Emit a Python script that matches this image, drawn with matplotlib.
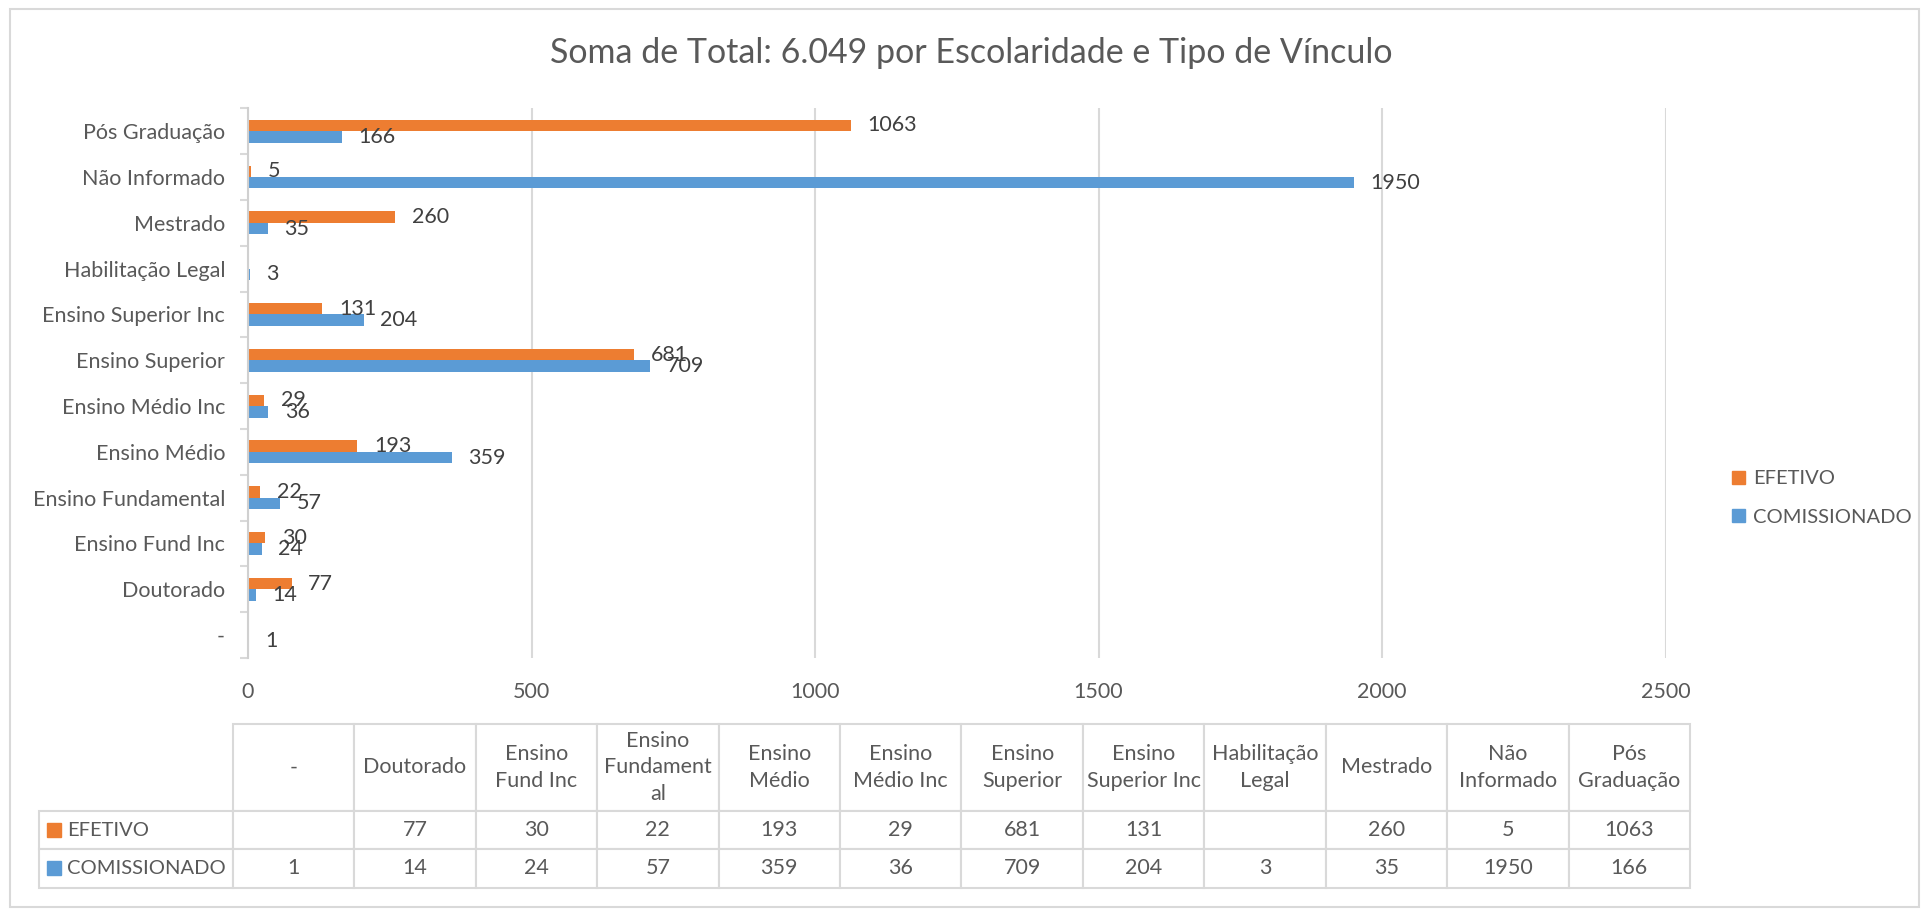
import numpy as np
import matplotlib
matplotlib.use("Agg")
import matplotlib.pyplot as plt
from matplotlib.patches import Patch, Rectangle
from matplotlib.table import Table

plt.rcParams['font.family'] = ['Lato', 'DejaVu Sans']

# data
categories = ['-', 'Doutorado', 'Ensino Fund Inc', 'Ensino Fundamental', 'Ensino Médio',
              'Ensino Médio Inc', 'Ensino Superior', 'Ensino Superior Inc',
              'Habilitação Legal', 'Mestrado', 'Não Informado', 'Pós Graduação']
table_headers = ['-', 'Doutorado', 'Ensino\nFund Inc', 'Ensino\nFundament\nal', 'Ensino\nMédio',
                 'Ensino\nMédio Inc', 'Ensino\nSuperior', 'Ensino\nSuperior Inc',
                 'Habilitação\nLegal', 'Mestrado', 'Não\nInformado', 'Pós\nGraduação']
efetivo = [None, 77, 30, 22, 193, 29, 681, 131, None, 260, 5, 1063]
comissionado = [1, 14, 24, 57, 359, 36, 709, 204, 3, 35, 1950, 166]
series_names = ['EFETIVO', 'COMISSIONADO']
title = 'Soma de Total: 6.049 por Escolaridade e Tipo de Vínculo'

ORANGE = '#ED7D31'
BLUE = '#5B9BD5'
TXT = '#595959'
LBL = '#404040'
GRID = '#D9D9D9'
FS = 15.5

W, H = 1921, 910
fig = plt.figure(figsize=(W / 100, H / 100), dpi=100)

# chart border
fig.add_artist(Rectangle((10 / W, 1 - 907 / H), (1919 - 10) / W, (907 - 9) / H,
                         transform=fig.transFigure, fill=False, ec=GRID, lw=1.5))

fig.text(971 / W, 1 - 53 / H, title, ha='center', va='center', fontsize=24.5, color=TXT)

ax = fig.add_axes([248 / W, 1 - 658 / H, (1665.5 - 248) / W, (658 - 108.3) / H])
y = np.arange(len(categories))
ey = [i for i, v in enumerate(efetivo) if v is not None]
ev = [efetivo[i] for i in ey]
ax.barh(np.array(ey) + 0.125, ev, height=0.25, color=ORANGE, zorder=3)
ax.barh(y - 0.125, comissionado, height=0.25, color=BLUE, zorder=3)

for i, v in zip(ey, ev):
    ax.annotate(str(v), (v, i + 0.125), xytext=(12, 0), textcoords='offset points',
                va='center', ha='left', fontsize=FS, color=LBL)
for i, v in enumerate(comissionado):
    ax.annotate(str(v), (v, i - 0.125), xytext=(12, 0), textcoords='offset points',
                va='center', ha='left', fontsize=FS, color=LBL)

ax.set_xlim(0, 2500)
ax.set_ylim(-0.5, len(categories) - 0.5)
ax.set_xticks(range(0, 2501, 500))
ax.set_yticks(y)
ax.set_yticklabels(categories)
ax.set_yticks(np.arange(-0.5, len(categories), 1), minor=True)
ax.tick_params(axis='x', length=0, pad=17, labelsize=FS, labelcolor=TXT)
ax.tick_params(axis='y', which='major', length=0, pad=16.5, labelsize=FS, labelcolor=TXT)
ax.tick_params(axis='y', which='minor', length=5.8, width=1.5, color=GRID)
for s in ['top', 'right', 'bottom']:
    ax.spines[s].set_visible(False)
ax.spines['left'].set_color('#D0D0D0')
ax.spines['left'].set_linewidth(1.5)
ax.spines['left'].set_zorder(4)
ax.grid(axis='x', color=GRID, lw=1.5)
ax.set_axisbelow(True)

handles = [Patch(color=ORANGE), Patch(color=BLUE)]
fig.legend(handles, series_names, loc='center left', bbox_to_anchor=(1722 / W, 1 - 498 / H),
           frameon=False, fontsize=14.5, labelcolor=TXT, borderpad=0, handlelength=0.65,
           handleheight=0.65, handletextpad=0.4, labelspacing=1.05)

# data table under the chart
tx0, tx1, ty0, ty1 = 39, 1690, 724, 887.7
tw, th = tx1 - tx0, ty1 - ty0
axt = fig.add_axes([tx0 / W, 1 - ty1 / H, tw / W, th / H])
axt.set_axis_off()
row_h = [86.7 / th, 38.6 / th, 38.4 / th]
label_w, col_w = 193.7 / tw, 121.4 / tw
tb = Table(axt, bbox=[label_w, 0, 1 - label_w, 1])
tb.auto_set_font_size(False)
for c, hd in enumerate(table_headers):
    tb.add_cell(0, c, width=col_w, height=row_h[0], text=hd, loc='center',
                edgecolor=GRID, facecolor='white')
for r, (name, vals) in enumerate(zip(series_names, [efetivo, comissionado]), start=1):
    cell = tb.add_cell(r, -1, width=label_w, height=row_h[r], text=name, loc='left',
                       edgecolor=GRID, facecolor='white')
    cell.PAD = 27.7 / 193.7
    for c, v in enumerate(vals):
        tb.add_cell(r, c, width=col_w, height=row_h[r], text='' if v is None else str(v),
                    loc='center', edgecolor=GRID, facecolor='white')
tb.set_fontsize(FS)
for (r, c), cell in tb.get_celld().items():
    cell.set_linewidth(1.5)
    cell.get_text().set_color(TXT)
    cell.get_text().set_linespacing(1.4)
    if c == -1:
        cell.get_text().set_fontsize(14.5)
axt.add_table(tb)

sq_w, sq_h = 13.7 / tw, 13.7 / th
for col, yc in zip([ORANGE, BLUE], [830, 868.3]):
    axt.add_patch(Rectangle((8.3 / tw, (ty1 - yc) / th - sq_h / 2), sq_w, sq_h,
                            transform=axt.transAxes, color=col, zorder=5))

fig.savefig('out.png', dpi=100)
